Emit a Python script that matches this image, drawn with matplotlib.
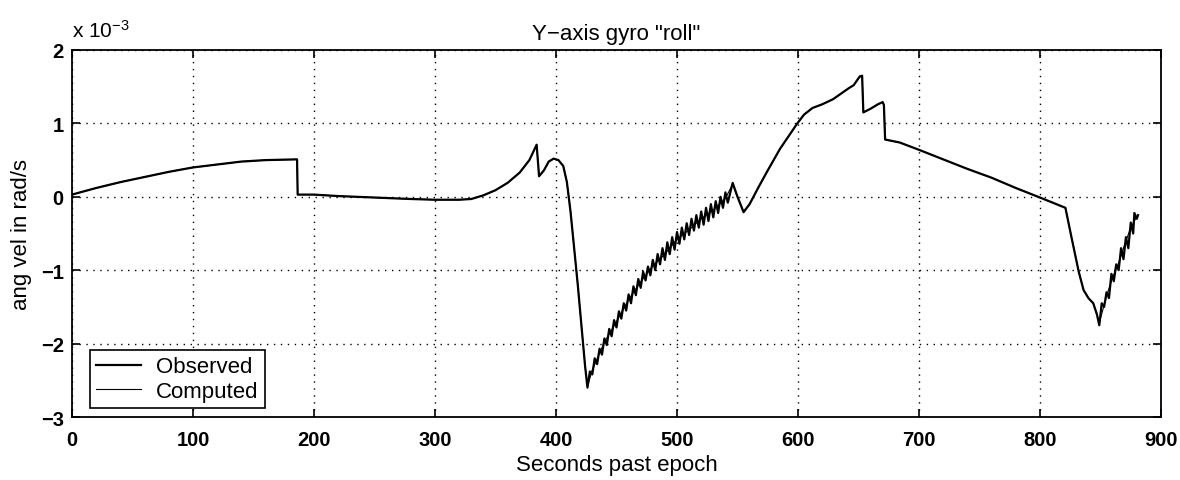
import matplotlib
matplotlib.use("Agg")
import matplotlib.pyplot as plt
import numpy as np

plt.rcParams['font.family'] = ['Liberation Sans', 'DejaVu Sans']
plt.rcParams['mathtext.fontset'] = 'custom'
plt.rcParams['mathtext.rm'] = 'Liberation Sans'
plt.rcParams['mathtext.it'] = 'Liberation Sans'

# Time (s past epoch) and angular velocity (units of 1e-3 rad/s)
obs_t = [0, 20, 40, 60, 80, 100, 120, 140, 160, 186,
         186.5, 200, 220, 250, 280, 300, 320, 330, 340, 350, 360, 370, 378, 384,
         386, 390, 394, 398, 402, 406, 409, 412, 415, 418, 421, 424, 426,
         428, 430, 432, 434, 436, 438, 440, 442, 444, 446, 448, 450, 452, 454,
         456, 458, 460, 462, 464, 466, 468, 470, 472, 474, 476, 478, 480, 482,
         484, 486, 488, 490, 492, 494, 496, 498, 500, 502, 504, 506, 508, 510,
         512, 514, 516, 518, 520, 522, 524, 526, 528, 530, 532, 534, 536, 538,
         540, 542, 546, 550, 555, 560, 567, 574, 585, 599, 605, 612, 620, 629,
         636, 642, 646, 651, 653, 654, 660, 666, 670, 671, 672, 684, 700, 720,
         740, 760, 780, 800, 821, 826, 832, 836, 840, 844, 847, 849, 851, 853,
         855, 857, 859, 861, 863, 865, 867, 869, 871, 873, 875, 877, 878, 880, 881]
obs_v = [0.03, 0.12, 0.20, 0.27, 0.34, 0.40, 0.44, 0.48, 0.50, 0.51,
         0.03, 0.03, 0.01, -0.01, -0.03, -0.04, -0.04, -0.03, 0.02, 0.09, 0.19, 0.33, 0.50, 0.71,
         0.28, 0.36, 0.48, 0.52, 0.50, 0.42, 0.20, -0.20, -0.70, -1.20, -1.75, -2.30, -2.60,
         -2.38, -2.42, -2.20, -2.28, -2.07, -2.15, -1.93, -2.02, -1.80, -1.90, -1.68, -1.78, -1.56, -1.66,
         -1.45, -1.55, -1.33, -1.45, -1.22, -1.34, -1.12, -1.24, -1.02, -1.14, -0.95, -1.07, -0.86, -1.00,
         -0.78, -0.92, -0.70, -0.86, -0.62, -0.78, -0.55, -0.72, -0.48, -0.64, -0.42, -0.58, -0.36, -0.52,
         -0.30, -0.46, -0.25, -0.42, -0.20, -0.38, -0.15, -0.33, -0.10, -0.28, -0.06, -0.22, 0.00, -0.15,
         0.06, -0.08, 0.19, 0.00, -0.21, -0.10, 0.12, 0.33, 0.65, 0.99, 1.12, 1.21, 1.26, 1.33,
         1.41, 1.48, 1.52, 1.64, 1.65, 1.15, 1.20, 1.26, 1.29, 1.25, 0.78, 0.74, 0.64, 0.51,
         0.38, 0.26, 0.12, -0.01, -0.15, -0.55, -1.02, -1.27, -1.38, -1.45, -1.60, -1.75, -1.45, -1.50,
         -1.30, -1.38, -1.05, -1.15, -0.92, -1.00, -0.70, -0.85, -0.55, -0.70, -0.35, -0.50, -0.22, -0.30, -0.25]

comp_t = [0, 20, 40, 60, 80, 100, 120, 140, 160, 186,
          186.5, 200, 220, 250, 280, 300, 320, 330, 340, 350, 360, 370, 378, 384,
          386, 390, 394, 398, 402, 406, 409, 412, 415, 418, 421, 424, 426,
          430, 440, 450, 460, 470, 480, 490, 500, 510, 520, 530, 540, 546, 550, 555,
          560, 567, 574, 585, 599, 605, 612, 620, 629, 636, 642, 646, 651, 653, 654,
          660, 666, 670, 671, 672, 684, 700, 720, 740, 760, 780, 800, 821, 826, 832,
          836, 840, 844, 847, 849, 855, 860, 865, 870, 875, 880]
comp_v = [0.03, 0.12, 0.20, 0.27, 0.34, 0.40, 0.44, 0.48, 0.50, 0.51,
          0.03, 0.03, 0.01, -0.01, -0.03, -0.04, -0.04, -0.03, 0.02, 0.09, 0.19, 0.33, 0.50, 0.71,
          0.28, 0.36, 0.48, 0.52, 0.50, 0.42, 0.20, -0.20, -0.70, -1.20, -1.75, -2.30, -2.58,
          -2.36, -1.98, -1.70, -1.40, -1.16, -0.94, -0.78, -0.58, -0.45, -0.30, -0.18, -0.02, 0.17, 0.0, -0.20,
          -0.10, 0.12, 0.33, 0.65, 0.99, 1.12, 1.21, 1.26, 1.33, 1.41, 1.48, 1.52, 1.63, 1.64, 1.15,
          1.20, 1.26, 1.29, 1.25, 0.78, 0.74, 0.64, 0.51, 0.38, 0.26, 0.12, -0.01, -0.15, -0.55, -1.02,
          -1.27, -1.38, -1.45, -1.60, -1.72, -1.35, -1.10, -0.90, -0.65, -0.42, -0.27]

x_ticks = [0, 100, 200, 300, 400, 500, 600, 700, 800, 900]
y_ticks = [-3, -2, -1, 0, 1, 2]

fig = plt.figure(figsize=(11.8, 4.81), dpi=100)
ax = fig.add_axes([72 / 1180, 1 - 418 / 481, (1161 - 72) / 1180, (418 - 51) / 481])

scale = 1e-3
ax.plot(np.array(comp_t), np.array(comp_v) * scale, color='black', lw=0.8, label='Computed', zorder=3)
ax.plot(np.array(obs_t), np.array(obs_v) * scale, color='black', lw=1.6, label='Observed', zorder=4)

ax.set_xlim(0, 900)
ax.set_ylim(-3e-3, 2e-3)
ax.set_xticks(x_ticks)
ax.set_yticks([v * scale for v in y_ticks])
ax.set_xticklabels([str(v) for v in x_ticks])
ax.set_yticklabels([str(v).replace('-', '\u2212') for v in y_ticks])

ax.tick_params(direction='in', length=6, width=1.2, top=True, right=True,
               labelsize=14.5, pad=6)
ax.tick_params(axis='x', pad=9)
for lab in ax.get_xticklabels() + ax.get_yticklabels():
    lab.set_fontweight('bold')
for sp in ax.spines.values():
    sp.set_linewidth(1.3)

ax.grid(True, color='black', linestyle=(0, (1, 4)), linewidth=1.0)

ax.set_title('Y\u2212axis gyro "roll"', fontsize=16, pad=8)
ax.set_xlabel('Seconds past epoch', fontsize=16, labelpad=4)
ax.set_ylabel('ang vel in rad/s', fontsize=16, labelpad=6)

ax.text(0.0, 1.025, r'x 10$^{\mathregular{-3}}$', transform=ax.transAxes,
        fontsize=15, ha='left', va='bottom')

h, l = ax.get_legend_handles_labels()
leg = ax.legend([h[1], h[0]], [l[1], l[0]], loc='lower left',
                bbox_to_anchor=(0.01, 0.005), fontsize=16, frameon=True,
                fancybox=False, handlelength=2.0, handletextpad=0.7,
                borderpad=0.3, labelspacing=0.15, borderaxespad=0.3)
leg.get_frame().set_edgecolor('black')
leg.get_frame().set_linewidth(1.2)
leg.get_frame().set_alpha(1)

fig.savefig('out.png', dpi=100, facecolor='white')
